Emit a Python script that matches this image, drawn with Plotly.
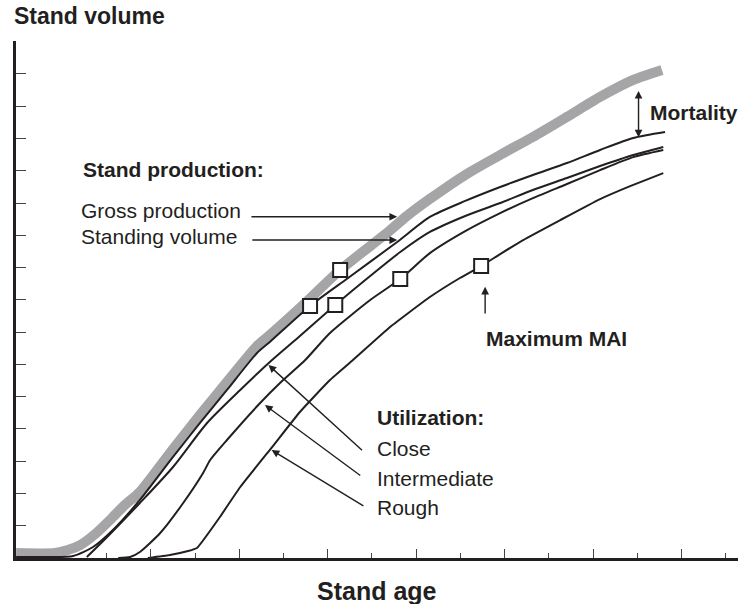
import plotly.graph_objects as go

# stand age (years) and stand volume (m3/ha)
gross_age = [-0.5, 8.3, 11.2, 14.0, 17.4, 21.2, 24.1, 27.5, 35.0, 41.1, 47.2, 54.0, 56.9, 64.2,
             72.8, 83.4, 87.9, 93.1, 101.1, 109.0, 116.4, 124.1, 131.6, 139.1, 145.6]
gross_vol = [7.7, 7.7, 12.4, 20.1, 37.2, 62.0, 82.1, 102.3, 168.9, 221.6, 272.7, 328.5, 345.5, 390.5,
             446.2, 503.6, 529.9, 556.3, 593.5, 624.4, 652.3, 683.4, 714.3, 740.7, 756.2]

standing_age = [-0.5, 7.2, 12.4, 16.9, 21.4, 27.5, 35.0, 41.1, 47.2, 54.0, 56.9, 66.0, 74.6, 85.7,
                93.1, 101.1, 109.0, 116.4, 124.1, 131.6, 139.1, 146.3]
standing_vol = [1.5, 1.5, 3.1, 17.0, 43.4, 89.9, 156.5, 209.2, 260.3, 317.6, 334.7, 390.5, 433.8, 489.6,
                528.4, 553.2, 574.8, 593.4, 612.0, 632.2, 650.8, 660.1]

close_age = [15.5, 20.1, 27.5, 35.0, 42.7, 50.2, 56.9, 63.7, 71.7, 79.6, 86.4, 93.1, 101.1, 109.0,
             116.4, 124.1, 131.6, 139.1, 145.9]
close_vol = [1.5, 32.5, 85.2, 141.0, 209.2, 260.3, 303.7, 343.9, 392.0, 436.9, 474.0, 505.1, 529.9, 550.0,
             570.2, 588.8, 607.3, 624.4, 636.8]

inter_age = [22.6, 25.3, 27.5, 32.1, 37.3, 41.8, 43.4, 47.2, 54.7, 59.2, 64.9, 70.5, 79.6, 86.4,
             93.1, 101.1, 109.0, 116.4, 124.1, 131.6, 139.1, 145.9]
inter_vol = [0.0, 1.5, 9.3, 38.7, 85.2, 131.7, 151.8, 182.8, 240.1, 271.1, 306.7, 348.6, 399.7, 432.2,
             472.4, 506.5, 534.4, 557.6, 579.4, 601.0, 621.1, 632.0]

rough_age = [29.3, 34.3, 38.4, 40.4, 45.6, 50.2, 57.6, 63.7, 70.5, 75.7, 84.1, 93.1, 99.9, 104.7,
             109.0, 114.2, 122.6, 131.6, 138.4, 145.9]
rough_vol = [0.0, 4.6, 10.8, 15.5, 63.5, 110.0, 173.5, 226.2, 275.7, 306.7, 357.9, 404.3, 433.8, 452.3,
             470.9, 492.6, 523.6, 556.1, 576.2, 596.4]

# culmination of mean annual increment (gross, standing, close, intermediate, rough)
mai_age = [72.8, 66.0, 71.7, 86.4, 104.7]
mai_vol = [446.2, 390.5, 392.0, 432.2, 452.3]

long_ticks = [30, 50, 70, 90, 110, 130, 150]
short_ticks = [20, 40, 60, 80, 100, 120, 140, 160]

INK = "#231f20"
FONT = "Liberation Sans, Arial, Helvetica, sans-serif"

fig = go.Figure()

fig.add_trace(go.Scatter(x=gross_age, y=gross_vol, mode="lines",
                         line=dict(color="#a5a5a7", width=10, shape="spline", smoothing=0.7),
                         hoverinfo="skip"))
for ages, vols, smooth in [(standing_age, standing_vol, 0.7), (close_age, close_vol, 0.7),
                           (inter_age, inter_vol, 0.6), (rough_age, rough_vol, 0.4)]:
    fig.add_trace(go.Scatter(x=ages, y=vols, mode="lines",
                             line=dict(color=INK, width=2, shape="spline", smoothing=smooth),
                             hoverinfo="skip"))

fig.add_trace(go.Scatter(x=mai_age, y=mai_vol, mode="markers",
                         marker=dict(symbol="square", size=14, color="white",
                                     line=dict(color=INK, width=2)),
                         hoverinfo="skip"))

def label(x, y, text, bold=False):
    fig.add_annotation(x=x, y=y, xref="x", yref="y", text=f"<b>{text}</b>" if bold else text,
                       showarrow=False, xanchor="left", yanchor="middle",
                       font=dict(family=FONT, size=21, color=INK))

def arrow(x0, y0, x1, y1, both=False):
    fig.add_annotation(x=x1, y=y1, ax=x0, ay=y0, xref="x", yref="y", axref="x", ayref="y",
                       text="", showarrow=True, arrowhead=2, arrowsize=1.1, arrowwidth=1.4,
                       arrowcolor=INK, standoff=0, startstandoff=0,
                       arrowside="end+start" if both else "end", startarrowhead=2,
                       startarrowsize=1.1)

label(14.1, 601.8, "Stand production:", bold=True)
label(13.7, 538.3, "Gross production")
label(13.7, 498.8, "Standing volume")
arrow(52.4, 528.7, 85.7, 528.7)
arrow(52.6, 492.6, 85.7, 492.6)

label(142.5, 690.2, "Mortality", bold=True)
arrow(140.3, 726.0, 140.3, 651.7, both=True)

label(105.4, 340.8, "Maximum MAI", bold=True)
arrow(105.6, 376.4, 105.6, 420.3)

label(80.7, 218.4, "Utilization:", bold=True)
label(80.7, 170.4, "Close")
label(80.7, 122.8, "Intermediate")
label(80.7, 79.0, "Rough")
arrow(78.1, 164.7, 56.6, 299.0)
arrow(77.7, 126.0, 55.8, 237.0)
arrow(78.4, 79.5, 57.3, 167.3)

fig.add_annotation(x=-0.006, y=1.048, xref="paper", yref="paper", text="<b>Stand volume</b>",
                   showarrow=False, xanchor="left", yanchor="middle",
                   font=dict(family=FONT, size=23, color=INK))
fig.add_annotation(x=0.5, y=-0.064, xref="paper", yref="paper", text="<b>Stand age</b>",
                   showarrow=False, xanchor="center", yanchor="middle",
                   font=dict(family=FONT, size=25, color=INK))

fig.update_layout(
    width=738, height=604,
    margin=dict(l=16, r=0, t=41, b=46),
    plot_bgcolor="white", paper_bgcolor="white",
    showlegend=False,
    xaxis=dict(range=[-0.52, 162.8], showgrid=False, zeroline=False, showline=True,
               linecolor=INK, linewidth=2.5, ticks="inside", tickmode="array",
               tickvals=long_ticks, ticklen=9, tickwidth=1.4, tickcolor="#444",
               showticklabels=False,
               minor=dict(tickmode="array", tickvals=short_ticks, ticks="inside",
                          ticklen=5, tickwidth=1.4, tickcolor="#444")),
    yaxis=dict(range=[0, 801], showgrid=False, zeroline=False, showline=True,
               linecolor=INK, linewidth=2.5, ticks="inside", tick0=0, dtick=50,
               ticklen=10, tickwidth=1.4, tickcolor="#444", showticklabels=False),
)

# page margin off so the figure sits at the window's top-left corner
fig.write_html("out.html", config={"displayModeBar": False},
               post_script="document.body.style.margin='0';")
